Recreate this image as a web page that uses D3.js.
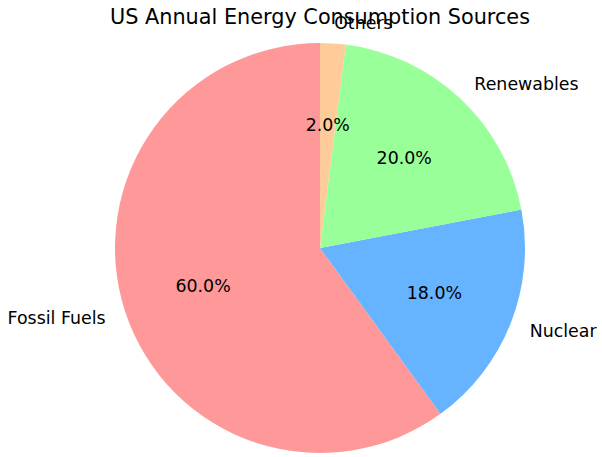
<!DOCTYPE html>
<html>
<head>
<meta charset="utf-8">
<script src="https://cdn.jsdelivr.net/npm/d3@7"></script>
<style>
  body { margin: 0; background: #fff; }
  text { font-family: "DejaVu Sans", sans-serif; fill: #000; }
</style>
</head>
<body>
<svg id="chart" width="602" height="457"></svg>
<script>
// data
var labels = ["Fossil Fuels", "Nuclear", "Renewables", "Others"];
var shares = [60, 18, 20, 2];
var colors = ["#ff9999", "#66b3ff", "#99ff99", "#ffcc99"];

var svg = d3.select("#chart");
var cx = 320, cy = 248, r = 205;

svg.append("text")
    .attr("x", 320)
    .attr("y", 24)
    .attr("text-anchor", "middle")
    .style("font-size", "20.8px")
    .text("US Annual Energy Consumption Sources");

// matplotlib style: start at 90deg, go counterclockwise
// d3 angles are clockwise from 12 o'clock, so negate
var pie = d3.pie()
    .sort(null)
    .startAngle(0)
    .endAngle(-2 * Math.PI)
    .value(function (d) { return d; });

var arcs = pie(shares);
var arc = d3.arc().innerRadius(0).outerRadius(r);

var g = svg.append("g").attr("transform", "translate(" + cx + "," + cy + ")");

g.selectAll("path")
    .data(arcs)
    .enter()
    .append("path")
    .attr("d", arc)
    .attr("fill", function (d, i) { return colors[i]; });

function pos(d, f) {
    var a = (d.startAngle + d.endAngle) / 2;
    return [Math.sin(a) * r * f, -Math.cos(a) * r * f];
}

// category labels
g.selectAll(".lbl")
    .data(arcs)
    .enter()
    .append("text")
    .attr("class", "lbl")
    .attr("x", function (d) { return pos(d, 1.1)[0]; })
    .attr("y", function (d) { return pos(d, 1.1)[1]; })
    .attr("dy", "0.35em")
    .attr("text-anchor", function (d) { return pos(d, 1.1)[0] > 0 ? "start" : "end"; })
    .style("font-size", "17.4px")
    .text(function (d, i) { return labels[i]; });

// percentages
g.selectAll(".pct")
    .data(arcs)
    .enter()
    .append("text")
    .attr("class", "pct")
    .attr("x", function (d) { return pos(d, 0.6)[0]; })
    .attr("y", function (d) { return pos(d, 0.6)[1]; })
    .attr("dy", "0.35em")
    .attr("text-anchor", "middle")
    .style("font-size", "17.4px")
    .text(function (d) { return d.value.toFixed(1) + "%"; });
</script>
</body>
</html>
